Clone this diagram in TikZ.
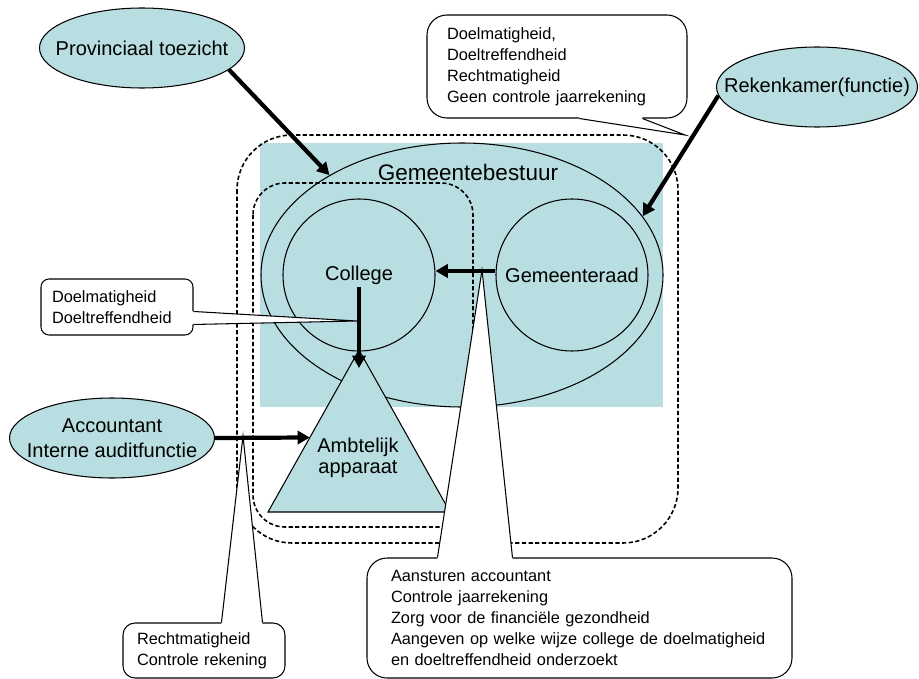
\documentclass[tikz,border=0pt]{standalone}
\usepackage{fontspec}
\setmainfont{Liberation Sans}
\usetikzlibrary{calc,arrows.meta,shapes.geometric}

\definecolor{lichtblauw}{RGB}{184,222,225}
\newdimen\pxl
\pxl=0.02cm

\tikzset{
  wolk/.style={ellipse,draw,fill=lichtblauw,inner sep=0pt,minimum width=205\pxl,minimum height=80\pxl},
  kring/.style={circle,draw,inner sep=0pt,minimum size=152\pxl},
  ballon/.style={rectangle,draw,fill=white,rounded corners=12\pxl,inner ysep=0pt,align=left,font=\fontsize{9.3}{12}\selectfont},
  kader/.style={dash pattern=on 2.4pt off 1.4pt,line width=0.9pt},
  pijl/.style={line width=2.4pt,-{Triangle[length=7pt,width=7.5pt]}}
}

\begin{document}
\begin{tikzpicture}[x=0.02cm,y=-0.02cm,line width=0.6pt,font=\fontsize{11.4}{14}\selectfont]
\useasboundingbox (0,0) rectangle (919,679);

% gemeentebestuur
\fill[lichtblauw] (260,143) rectangle (663,407);
\draw[kader,rounded corners=55\pxl] (237,135) rectangle (678,543);
\draw[kader,rounded corners=32\pxl] (253,183) rectangle (473,527);
\node[ellipse,draw,inner sep=0pt,minimum width=402\pxl,minimum height=264\pxl] (bestuur) at (462,275) {};
\node[font=\fontsize{12.8}{15}\selectfont] (bestuurnaam) at (468,172) {Gemeentebestuur};
\node[kring] (college) at (359,275) {College};
\node[kring] (raad) at (572,275) {Gemeenteraad};

% ambtelijk apparaat
\coordinate (punt) at (359,350);
\coordinate (linksonder) at (268,512);
\coordinate (rechtsonder) at (450,512);
\filldraw[fill=lichtblauw] (punt) -- (linksonder) -- (rechtsonder) -- cycle;
\node[align=center,font=\fontsize{11.4}{11.6}\selectfont] (apparaat) at (358,458) {Ambtelijk\\apparaat};

% toezicht van buiten
\node[wolk,label={[name=provnaam]center:Provinciaal toezicht}] (provincie) at (142,48) {};
\node[wolk,minimum width=201\pxl,label={[name=reknaam]center:Rekenkamer(functie)}] (rekenkamer) at (817,87) {};
\node[wolk,label={[name=accnaam,align=center,font=\fontsize{11.4}{14.2}\selectfont]center:{Accountant\\Interne auditfunctie}}] (accountant) at (112,438) {};

% tekstballonnen
\node[ballon,rounded corners=20\pxl,text width=220\pxl,inner xsep=20\pxl,minimum height=103\pxl] (noot1) at (557,66.5) {Doelmatigheid,\\Doeltreffendheid\\Rechtmatigheid\\Geen controle jaarrekening};
\node[ballon,rounded corners=8\pxl,text width=130\pxl,inner xsep=11\pxl,minimum height=56\pxl] (noot2) at (117,307) {Doelmatigheid\\Doeltreffendheid};
\node[ballon,text width=134\pxl,inner xsep=14\pxl,minimum height=55\pxl] (noot3) at (204,650.5) {Rechtmatigheid\\Controle rekening};
\node[ballon,rounded corners=20\pxl,text width=377\pxl,inner xsep=24\pxl,minimum height=120\pxl] (noot4) at (579.5,618) {Aansturen accountant\\Controle jaarrekening\\Zorg voor de financiële gezondheid\\Aangeven op welke wijze college de doelmatigheid\\en doeltreffendheid onderzoekt};

\coordinate (a1) at ($(noot1.south west)+(153,0)$);
\coordinate (b1) at ($(noot1.south west)+(216,0)$);
\coordinate (p1) at (685,135);
\coordinate (a2) at ($(noot2.north east)+(0,33)$);
\coordinate (b2) at ($(noot2.north east)+(0,46)$);
\coordinate (p2) at (357,321);
\coordinate (a3) at ($(noot3.north west)+(99,0)$);
\coordinate (b3) at ($(noot3.north west)+(140,0)$);
\coordinate (p3) at (243,436);
\coordinate (a4) at ($(noot4.north west)+(71,0)$);
\coordinate (b4) at ($(noot4.north west)+(146,0)$);
\coordinate (p4) at (482,270);
\foreach \i/\dx/\dy in {1/0/-2,2/-2/0,3/0/2,4/0/2}{
  \fill[white] (a\i) -- (p\i) -- (b\i) -- ([shift={(\dx,\dy)}]b\i) -- ([shift={(\dx,\dy)}]a\i) -- cycle;
  \draw (a\i) -- (p\i) -- (b\i);
}

% pijlen
\draw[pijl] (provincie.-14) -- (bestuur.143);
\draw[pijl] (rekenkamer.185) -- (bestuur.18.5);
\draw[pijl] ($(raad.west)+(0,-4)$) -- ($(college.east)+(0,-4)$);
\draw[pijl] ($(college)+(0,12)$) -- ($(punt)+(0,18)$);
\draw[pijl] (accountant.east) -- ($(punt)!.54!(linksonder)$);

\end{tikzpicture}
\end{document}
